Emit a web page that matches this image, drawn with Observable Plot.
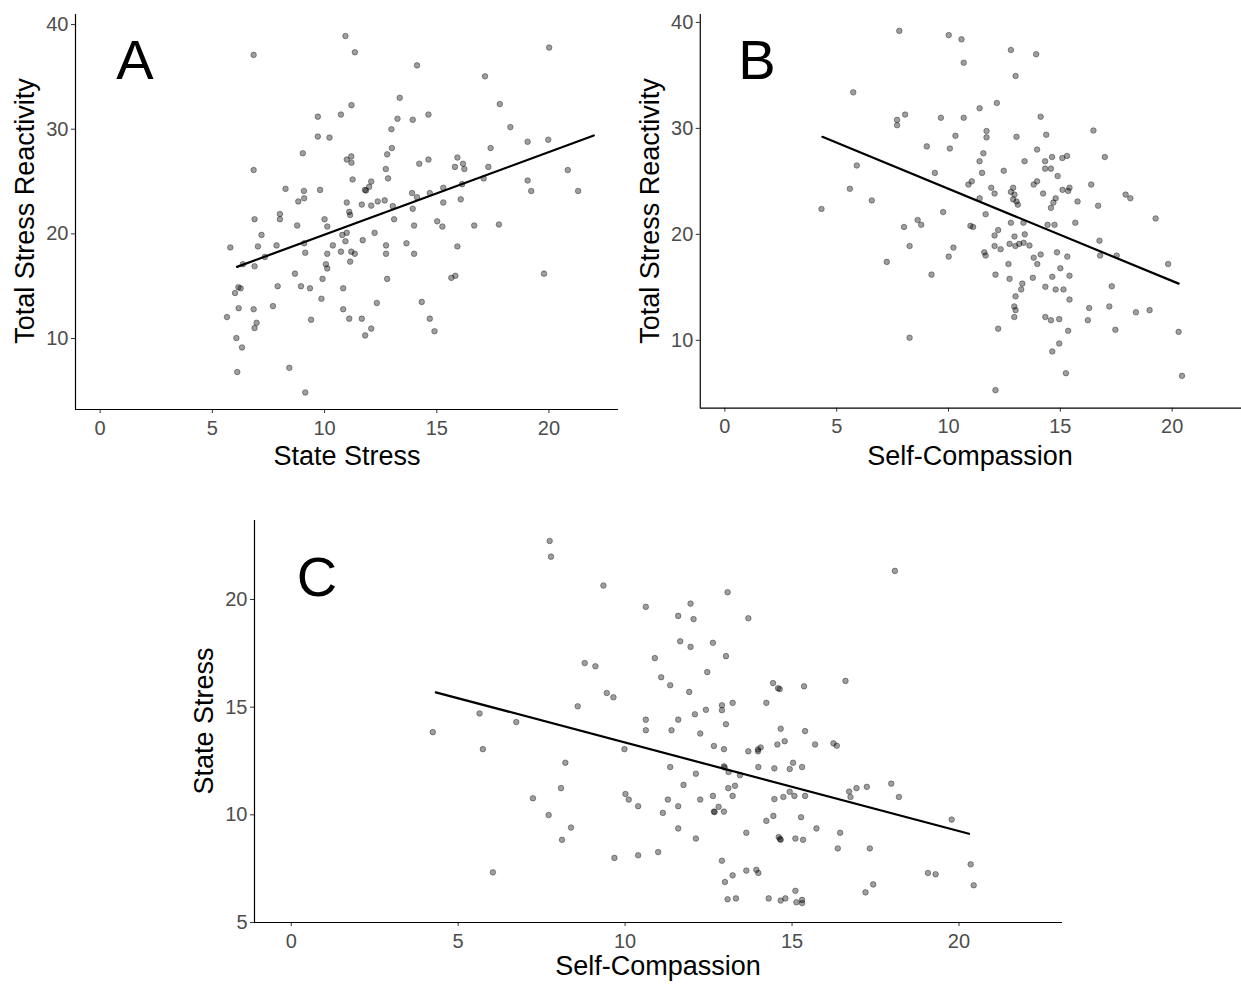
<!DOCTYPE html>
<html>
<head>
<meta charset="utf-8">
<script src="https://cdn.jsdelivr.net/npm/d3@7"></script>
<script src="https://cdn.jsdelivr.net/npm/@observablehq/plot@0.6"></script>
<style>
  html, body { margin: 0; padding: 0; background: #fff; }
  #fig { position: relative; width: 1241px; height: 986px; overflow: hidden; background: #fff; font-family: "Liberation Sans", Arial, sans-serif; }
  .panel { position: absolute; }
  .title { position: absolute; font-size: 27px; color: #000; line-height: 1; white-space: nowrap; transform: translate(-50%, -50%); }
  .ytitle { transform: translate(-50%, -50%) rotate(-90deg); }
  .letter { position: absolute; font-size: 56px; color: #000; line-height: 1; transform: translate(-50%, -50%); }
</style>
</head>
<body>
<div id="fig"></div>
<script>
// ---------- Data ----------
// Panel A: State Stress (x) vs Total Stress Reactivity (y)
const aStateStress = [6.84,10.93,11.35,13.35,11.2,10.73,9.7,13.25,13.93,12.98,9.7,10.22,13.0,12.79,9.03,10.99,11.19,11.2,6.84,12.73,12.83,11.25,12.08,8.26,9.08,9.8,11.99,11.8,11.85,9.09,8.83,13.9,10.99,11.66,12.08,12.37,12.68,13.04,13.93,8.01,11.1,11.14,6.88,8.01,10.0,13.1,8.78,10.12,13.99,7.19,10.79,10.99,12.23,5.8,7.03,7.86,9.09,10.37,10.93,11.7,12.74,13.65,13.99,6.88,6.36,7.34,9.14,10.12,10.73,11.19,11.35,12.74,11.14,10.06,10.12,8.68,9.91,12.79,6.16,6.26,6.01,7.91,8.95,9.35,10.83,9.86,12.33,6.17,6.84,7.7,10.83,5.65,9.4,11.1,11.66,6.97,6.88,12.08,11.81,6.07,6.32,8.43,6.11,9.14,14.12,20.01,17.15,17.81,14.63,18.28,19.05,19.97,17.4,14.22,14.63,15.92,15.81,16.17,16.23,17.3,17.09,20.84,19.05,19.21,21.3,14.12,14.69,15.29,16.13,15.29,16.07,15.02,15.25,16.67,17.77,15.92,15.65,15.83,19.78,14.33,14.69,14.9];
const aReactivity = [37.1,38.9,37.35,33.0,32.3,31.4,31.2,31.0,30.9,30.0,29.3,29.2,28.2,27.6,27.7,27.1,27.4,26.8,26.1,26.2,25.3,25.2,25.0,24.3,24.1,24.2,24.5,24.2,24.15,23.4,23.1,23.9,23.0,22.8,22.7,23.1,23.2,22.65,22.4,21.9,22.1,21.8,21.4,21.4,21.4,21.4,20.8,20.7,20.8,19.9,19.9,20.1,20.1,18.7,18.8,18.9,19.1,18.9,19.3,19.4,18.9,19.1,18.1,16.9,17.1,17.8,18.2,18.1,18.3,18.3,18.1,18.1,17.35,17.1,16.7,16.2,15.7,15.7,14.9,14.8,14.35,15.0,15.0,14.8,14.8,13.8,13.4,12.9,12.8,13.1,12.8,12.05,11.8,11.9,11.9,11.5,11.0,10.95,10.3,10.05,9.15,7.2,6.8,4.85,36.1,37.8,35.05,32.4,31.4,30.2,28.8,29.0,28.2,26.7,27.1,27.3,26.4,26.7,26.2,26.4,25.3,26.1,25.1,24.1,24.1,23.5,23.9,24.4,24.75,23.0,23.3,21.2,20.7,20.8,20.9,18.8,15.8,16.0,16.2,13.5,11.9,10.7];
const aFitX = [6.1, 22.0];
const aFitY = [16.85, 29.4];

// Panel B: Self-Compassion (x) vs Total Stress Reactivity (y)
const bSelfCompassion = [7.8,10.01,10.58,10.68,5.74,12.16,8.06,7.7,7.7,9.66,10.68,11.39,11.7,11.7,10.31,9.03,10.06,11.56,11.39,5.9,9.39,11.5,10.89,11.04,11.91,12.06,5.59,6.57,11.39,4.32,9.76,12.79,13.92,13.0,14.12,16.48,13.04,14.37,13.96,16.99,14.63,15.09,15.3,13.4,14.32,14.32,14.58,12.47,14.88,13.96,13.81,16.38,12.89,12.79,12.95,12.89,13.04,13.1,14.23,15.1,15.35,15.41,14.79,14.69,14.58,15.77,16.69,17.92,18.13,11.66,8.62,8.78,8.01,10.98,11.1,12.06,12.22,8.26,10.22,10.01,11.6,11.66,12.06,7.24,9.24,12.1,12.22,8.26,12.1,19.26,12.79,13.35,14.43,14.74,15.67,12.95,13.41,12.73,12.99,13.16,13.36,13.62,12.33,16.75,16.78,17.52,14.85,14.12,13.81,13.97,15.31,12.68,19.82,15.0,12.73,13.77,14.64,15.41,13.3,13.25,14.33,14.79,15.14,17.3,13.0,15.41,12.94,13.0,16.29,17.19,18.38,18.99,12.94,14.33,14.58,14.95,16.23,17.46,20.29,15.35,14.95,14.64,15.25,20.44];
const bReactivity = [39.2,38.8,38.4,36.2,33.4,32.4,31.3,30.8,30.3,31.0,31.0,31.9,29.75,29.15,29.3,28.3,28.1,27.65,26.9,26.5,25.8,25.8,24.7,25.0,24.4,23.85,24.3,23.2,23.4,22.4,22.1,37.4,37.0,34.95,31.1,29.8,29.2,29.4,28.0,27.3,27.3,27.2,27.4,26.9,26.9,26.2,26.2,26.0,25.5,25.0,24.7,24.7,24.4,24.0,23.75,23.3,23.1,22.8,23.85,24.2,24.1,24.4,23.4,23.0,22.5,23.1,22.7,23.75,23.4,21.9,21.35,20.9,20.7,20.8,20.7,19.9,20.4,18.9,18.75,17.9,18.3,18.0,18.9,17.4,16.2,16.2,11.1,10.25,5.3,21.5,21.1,21.1,20.9,20.9,21.1,19.8,20.0,19.1,18.9,19.1,19.2,18.95,18.6,19.4,18.0,18.0,18.3,18.1,17.8,17.2,17.9,17.2,17.2,16.8,15.8,15.9,16.0,16.1,15.35,14.8,15.05,14.8,14.8,15.1,14.15,13.85,13.2,12.85,13.05,13.2,12.65,12.85,12.2,12.2,11.9,12.0,11.9,11.0,10.8,10.9,9.7,8.95,6.9,6.65];
const bFitX = [4.36, 20.29];
const bFitY = [29.2, 15.35];

// Panel C: Self-Compassion (x) vs State Stress (y)
const cSelfCompassion = [7.74,7.78,9.35,10.62,11.96,11.59,12.05,11.65,11.96,10.89,8.79,9.11,11.08,11.35,11.92,9.45,9.65,8.58,5.64,12.09,12.42,10.62,11.59,18.08,13.07,13.69,12.63,13.02,12.46,14.43,14.58,14.63,15.36,16.6,13.22,14.23,12.9,12.9,6.74,4.24,10.62,11.39,12.25,5.74,9.98,8.21,11.35,12.12,11.75,8.08,7.24,10.01,10.11,10.39,11.28,11.59,12.25,11.13,7.71,8.38,11.59,8.11,12.12,9.68,10.39,10.99,6.04,13.02,14.66,15.39,12.66,12.96,13.69,13.98,14.06,13.98,14.56,14.78,15.69,16.24,16.34,12.96,12.98,13.1,13.44,13.99,14.47,14.93,15.03,15.3,13.09,13.29,12.63,13.22,14.47,14.74,14.93,15.07,15.39,16.71,16.75,16.93,17.24,17.97,18.2,12.66,12.68,12.8,12.96,14.23,14.44,15.27,19.78,15.73,13.63,16.44,14.6,14.64,14.66,15.1,15.33,16.37,17.33,12.9,13.63,13.93,13.99,13.22,12.99,19.07,19.3,20.35,20.44,15.1,17.43,17.2,13.07,13.32,14.3,14.66,14.8,15.13,15.3,15.3];
const cStateStress = [22.72,21.99,20.65,19.66,19.81,19.24,19.09,18.06,17.8,17.28,17.05,16.9,16.39,16.02,15.71,15.66,15.46,15.04,14.71,14.67,14.88,14.42,14.42,21.33,20.34,19.13,17.99,17.37,16.63,16.12,15.88,15.84,15.97,16.22,15.2,15.2,15.09,14.86,14.31,13.84,13.93,13.93,13.78,13.05,13.05,12.42,12.22,11.91,11.39,11.24,10.77,10.97,10.71,10.4,10.71,10.4,10.71,10.09,9.99,9.41,9.37,8.84,8.9,8.0,8.12,8.27,7.33,14.21,14.0,13.89,13.2,13.05,12.95,13.04,13.13,12.95,13.27,13.42,13.27,13.32,13.21,12.25,12.2,11.99,11.84,12.22,12.16,12.13,12.42,12.22,11.24,11.35,10.88,10.88,10.73,10.83,11.07,10.88,10.88,11.08,10.83,11.24,11.3,11.45,10.83,10.15,10.13,10.37,10.15,9.72,9.95,9.89,9.78,9.37,9.17,9.17,8.97,8.88,8.84,8.9,8.84,8.44,8.44,7.87,7.41,7.45,7.3,7.19,6.88,7.3,7.24,7.7,6.73,6.47,6.77,6.4,6.08,6.12,6.12,6.02,6.12,5.94,6.05,5.9];
const cFitX = [4.33, 20.3];
const cFitY = [15.69, 9.12];

// Ticks and labels
const xTicks = [0, 5, 10, 15, 20];
const reactivityTicks = [10, 20, 30, 40];
const stateStressTicks = [5, 10, 15, 20];
const labels = { stateStress: "State Stress", selfCompassion: "Self-Compassion", reactivity: "Total Stress Reactivity" };
const panelLetters = ["A", "B", "C"];

// ---------- Helpers ----------
const zip = (xs, ys) => xs.map((x, i) => ({x, y: ys[i]}));

function panel({pts, fit, xDomain, yDomain, yTicks, width, height, margins}) {
  const [mt, mr, mb, ml] = margins;
  return Plot.plot({
    width, height,
    marginTop: mt, marginRight: mr, marginBottom: mb, marginLeft: ml,
    style: {fontFamily: '"Liberation Sans", Arial, sans-serif', fontSize: "20px", background: "transparent", overflow: "visible"},
    x: {domain: xDomain},
    y: {domain: yDomain},
    marks: [
      Plot.axisX({ticks: xTicks, tickSize: 4, tickPadding: 7, label: null, stroke: "#333", fill: "#4d4d4d", fontSize: 20}),
      Plot.axisY({ticks: yTicks, tickSize: 4, tickPadding: 3, label: null, stroke: "#333", fill: "#4d4d4d", fontSize: 20}),
      Plot.ruleX([xDomain[0]], {stroke: "black", strokeWidth: 1.2}),
      Plot.ruleY([yDomain[0]], {stroke: "black", strokeWidth: 1.2}),
      Plot.dot(pts, {x: "x", y: "y", r: 2.8, fill: "black", fillOpacity: 0.38, stroke: "black", strokeOpacity: 0.4, strokeWidth: 0.9}),
      Plot.line(fit, {x: "x", y: "y", stroke: "black", strokeWidth: 2.2})
    ]
  });
}

const fig = document.getElementById("fig");
function place(el, left, top) {
  const d = document.createElement("div");
  d.className = "panel";
  d.style.left = left + "px";
  d.style.top = top + "px";
  d.appendChild(el);
  fig.appendChild(d);
}
function text(str, cls, cx, cy) {
  const d = document.createElement("div");
  d.className = cls;
  d.textContent = str;
  d.style.left = cx + "px";
  d.style.top = cy + "px";
  fig.appendChild(d);
}

// Panel A
place(panel({
  pts: zip(aStateStress, aReactivity), fit: zip(aFitX, aFitY),
  xDomain: [-1.1, 23.1], yDomain: [3.22, 40.96], yTicks: reactivityTicks,
  width: 630, height: 445, margins: [14, 12, 36, 75]
}), 0, 0);

// Panel B
place(panel({
  pts: zip(bSelfCompassion, bReactivity), fit: zip(bFitX, bFitY),
  xDomain: [-1.1, 23.1], yDomain: [3.6, 40.75], yTicks: reactivityTicks,
  width: 618, height: 445, margins: [14, 0, 36, 75]
}), 625, 0);

// Panel C
place(panel({
  pts: zip(cSelfCompassion, cStateStress), fit: zip(cFitX, cFitY),
  xDomain: [-1.1, 23.1], yDomain: [5, 23.67], yTicks: stateStressTicks,
  width: 895, height: 450, margins: [15, 13, 33, 74]
}), 180, 505);

// Axis titles
text(labels.stateStress, "title", 347, 456);
text(labels.reactivity, "title ytitle", 25, 211);
text(labels.selfCompassion, "title", 970, 456);
text(labels.reactivity, "title ytitle", 650, 211);
text(labels.selfCompassion, "title", 658, 966);
text(labels.stateStress, "title ytitle", 204, 721);

// Panel letters
text(panelLetters[0], "letter", 135, 60);
text(panelLetters[1], "letter", 757, 60);
text(panelLetters[2], "letter", 317, 577);
</script>
</body>
</html>
